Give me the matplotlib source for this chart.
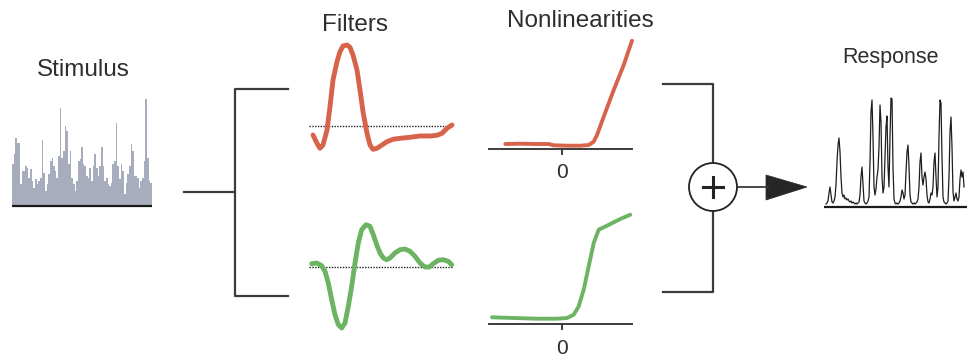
import matplotlib
matplotlib.use("Agg")
import matplotlib.pyplot as plt
from matplotlib.patches import Circle, Polygon

plt.rcParams['font.family'] = ['Liberation Sans', 'DejaVu Sans']

W, H = 969, 360

# ---------------- data ----------------
stimulus = [42, 52, 68, 63, 63, 22, 35, 35, 40, 38, 28, 37, 25, 18, 27, 22, 25, 28, 66, 33,
            15, 22, 32, 45, 48, 40, 35, 28, 50, 98, 48, 55, 80, 75, 42, 55, 28, 22, 15, 25,
            45, 47, 59, 42, 40, 30, 28, 38, 25, 40, 52, 38, 30, 40, 59, 40, 25, 28, 22, 20,
            23, 42, 45, 83, 40, 27, 42, 35, 12, 23, 32, 40, 62, 55, 30, 30, 28, 18, 25, 28,
            45, 107, 48, 25, 23]

red_filter_t = [23, 27, 30, 33, 37, 40, 43, 47, 50, 53, 57, 60, 63, 67, 70, 73, 77, 80, 83, 87,
                92, 97, 103, 110, 120, 130, 140, 147, 152, 157, 162]
red_filter_v = [-9, -17.3, -22.3, -19, -4, 19.3, 46, 64.3, 74.3, 80, 81, 78.7, 71, 56, 36, 14.3,
                -7.3, -19, -23.3, -22.3, -19, -15.7, -13.3, -12.3, -11.3, -10, -10, -9.3, -7.3,
                -2.3, 1]

green_filter_t = [21.7, 26.7, 31.7, 35, 38.3, 41.7, 45, 48.3, 51.7, 55, 58.3, 61.7, 65, 68.3, 71.7,
                  76, 80, 83.3, 86.7, 90, 93.3, 96.7, 100, 105, 110, 115, 120, 125, 130, 135,
                  139.3, 143.3, 148.3, 153.3, 158.3, 161.7]
green_filter_v = [3.3, 4, 1.3, -4.3, -16, -32.7, -47.7, -57.7, -61, -56, -39.3, -19.3, 4, 24, 37.3,
                  42.3, 40.7, 32.3, 22.3, 14, 9, 7.3, 9, 14, 17.3, 18, 15.7, 10.7, 4, 0, 0, 3.3,
                  6.7, 7.3, 5.7, 2.3]

red_nl_x = [-56.7, -41.7, -25, -13.3, -8.3, 5, 18.3, 26.7, 31.7, 35, 41.7, 51.7, 61.7, 70]
red_nl_y = [5, 5.3, 5, 5, 3.7, 3.3, 3.3, 4, 7.3, 14, 32.3, 59, 84, 108.3]

green_nl_x = [-70, -48.3, -25, -5, 5, 11.7, 16.7, 21.7, 26.7, 31.7, 36.7, 45, 58.3, 68.3]
green_nl_y = [6.7, 6, 5.3, 5.3, 6, 9.3, 17.7, 34.3, 57.7, 81, 94.3, 98.3, 105, 109.3]

response = [3, 4, 6, 14, 20, 12, 5, 4, 6, 10, 22, 45, 62, 69, 55, 30, 14, 10, 12, 8,
            9, 7, 8, 6, 5, 6, 4, 5, 4, 3, 4, 3, 4, 5, 12, 30, 40, 22, 6, 4,
            3, 4, 6, 10, 45, 95, 107, 70, 20, 12, 18, 30, 37, 60, 102, 85, 30, 14, 20, 50,
            80, 91, 40, 20, 70, 109, 108, 40, 8, 4, 3, 4, 3, 4, 6, 10, 17, 14, 8, 12,
            35, 55, 62, 40, 12, 5, 4, 3, 4, 3, 4, 5, 8, 20, 45, 54, 30, 22, 30, 35,
            28, 12, 5, 4, 8, 14, 12, 20, 45, 54, 30, 10, 20, 70, 107, 104, 50, 10, 5, 4,
            3, 4, 6, 30, 75, 90, 60, 15, 6, 10, 14, 8, 6, 10, 28, 37, 30, 35, 20]

titles = ["Stimulus", "Filters", "Nonlinearities", "Response"]
nl_tick_label = "0"

# ---------------- styles ----------------
RED = '#d8634b'
GREEN = '#6cb464'
DARK = '#3c3c3c'
TXT = '#2e2e2e'
BAR = '#a8adbe'

fig = plt.figure(figsize=(W / 100, H / 100), dpi=100)
fig.patch.set_facecolor('white')


def px_axes(x0, y0, x1, y1):
    ax = fig.add_axes([x0 / W, 1 - y1 / H, (x1 - x0) / W, (y1 - y0) / H])
    ax.axis('off')
    return ax


# main overlay in pixel coordinates for the diagram wiring
main = fig.add_axes([0, 0, 1, 1])
main.set_xlim(0, W)
main.set_ylim(H, 0)
main.axis('off')

# ---- stimulus ----
ax = px_axes(12, 90, 152, 210)
n = len(stimulus)
ax.bar(range(n), stimulus, width=1.0, color=BAR, edgecolor='none')
ax.axhline(0, color='#1a1a1a', lw=1.6)
ax.set_xlim(-0.5, n - 0.5)
ax.set_ylim(-4, 116)

# ---- filters ----
ax = px_axes(290, 30, 470, 170)
ax.plot([19, 162], [0, 0], color='#222222', lw=1.0, ls=(0, (1, 1)))
ax.plot(red_filter_t, red_filter_v, color=RED, lw=3.5, solid_capstyle='round', solid_joinstyle='round')
ax.set_xlim(0, 180)
ax.set_ylim(-44, 96)

ax = px_axes(290, 190, 470, 340)
ax.plot([19, 162], [0, 0], color='#222222', lw=1.0, ls=(0, (1, 1)))
ax.plot(green_filter_t, green_filter_v, color=GREEN, lw=3.5, solid_capstyle='round', solid_joinstyle='round')
ax.set_xlim(0, 180)
ax.set_ylim(-73, 77)

# ---- nonlinearities ----
for (y0, y1, axis_y, xs, ys, col) in [(20, 180, 149, red_nl_x, red_nl_y, RED),
                                       (200, 360, 324, green_nl_x, green_nl_y, GREEN)]:
    ax = px_axes(480, y0, 640, y1)
    ax.plot([-73.3, 70], [0, 0], color=DARK, lw=1.4)
    ax.plot([0, 0], [0, -5], color=DARK, lw=1.4)
    ax.plot(xs, ys, color=col, lw=2.8, solid_capstyle='round', solid_joinstyle='round')
    ax.text(0, -24, nl_tick_label, ha='center', va='center', fontsize=15, color=TXT)
    ax.set_xlim(-82, 78)
    ax.set_ylim(-(y1 - axis_y), axis_y - y0)

# ---- response ----
ax = px_axes(824, 90, 967, 212)
ax.plot(range(len(response)), response, color='#1e1e1e', lw=0.9)
ax.axhline(0, color='#1a1a1a', lw=1.6)
ax.set_xlim(-2, 141)
ax.set_ylim(-5, 117)

# ---- wiring ----
lw_w = 1.6
main.plot([184, 235], [192, 192], color=DARK, lw=lw_w)
main.plot([288, 235, 235, 288], [89, 89, 296, 296], color=DARK, lw=lw_w)
main.plot([663, 713, 713, 663], [84, 84, 292, 292], color=DARK, lw=lw_w, zorder=1)
main.add_patch(Circle((713, 187), 24, facecolor='white', edgecolor='#222222', lw=1.3, zorder=3))
main.plot([703, 723], [187, 187], color='#222222', lw=2.2, zorder=4)
main.plot([713, 713], [177, 197], color='#222222', lw=2.2, zorder=4)
main.plot([737, 768], [187, 187], color=DARK, lw=1.3)
main.add_patch(Polygon([[766, 175], [807, 187], [766, 200]], closed=True,
                       facecolor='#262626', edgecolor='#262626', lw=0.5))

# ---- titles ----
main.text(83, 70, titles[0], ha='center', va='center', fontsize=17.5, color=TXT)
main.text(355, 25, titles[1], ha='center', va='center', fontsize=17.5, color=TXT)
main.text(580, 21, titles[2], ha='center', va='center', fontsize=17.5, color=TXT)
main.text(891, 57, titles[3], ha='center', va='center', fontsize=15.5, color=TXT)

fig.savefig('out.png', dpi=100, facecolor='white')
